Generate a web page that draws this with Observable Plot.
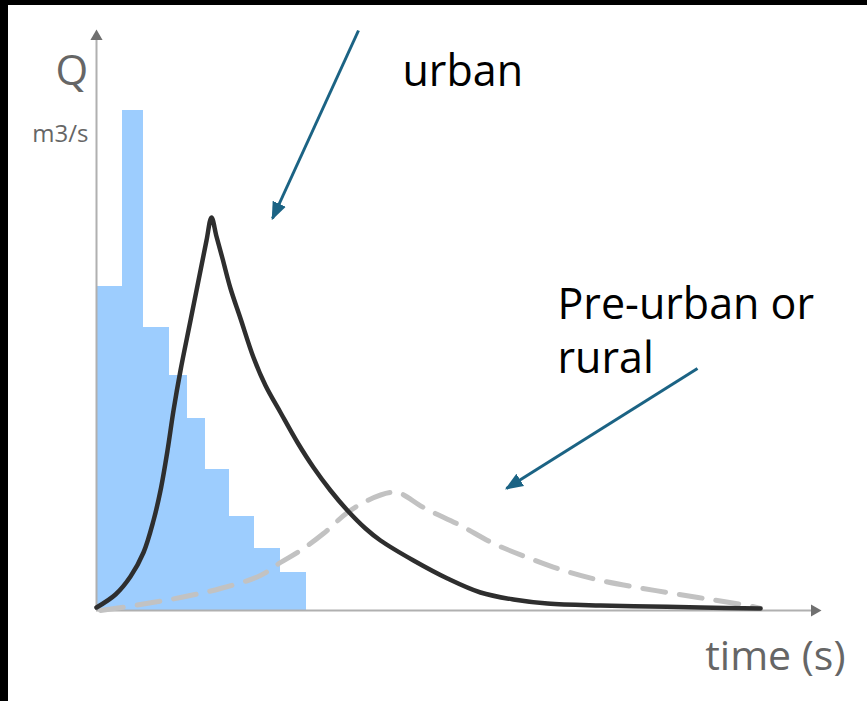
<!DOCTYPE html>
<html>
<head>
<meta charset="utf-8">
<script src="https://cdn.jsdelivr.net/npm/d3@7"></script>
<script src="https://cdn.jsdelivr.net/npm/@observablehq/plot@0.6"></script>
<style>
  html, body { margin: 0; padding: 0; background: #000; width: 867px; height: 701px; overflow: hidden; }
  #panel { position: absolute; left: 8px; top: 5px; width: 859px; height: 696px; background: #fff; }
  #panel svg { display: block; }
</style>
</head>
<body>
<div id="panel"></div>
<script>
// Rainfall hyetograph bars (time start, time end, intensity)
const barStart  = [0, 26, 47, 73, 91, 109, 133, 158, 184];
const barEnd    = [26, 47, 73, 91, 109, 133, 158, 184, 210];
const barHeight = [324, 500, 283, 235, 192, 141, 94, 62, 38];

// Urban hydrograph (solid)
const urbanT = [0, 19, 34, 47, 57, 64, 71, 77, 84, 94, 104, 110, 115, 120, 126, 134, 144, 157, 169, 184, 201, 217, 234, 251, 269, 284, 317, 351, 384, 417, 451, 504, 554, 604, 664];
const urbanQ = [3, 16, 34, 58, 90, 120, 160, 200, 240, 290, 340, 370, 393, 374, 352, 322, 292, 253, 225, 198, 168, 143, 120, 100, 82, 70, 50, 32, 18, 11, 7, 5, 4, 3, 2];

// Pre-urban / rural hydrograph (dashed)
const ruralT = [4, 44, 84, 124, 164, 184, 204, 227, 251, 271, 294, 304, 327, 364, 397, 431, 467, 504, 541, 577, 614, 651, 664];
const ruralQ = [0, 6, 13, 22, 35, 48, 60, 77, 98, 110, 118, 117, 103, 85, 67, 53, 40, 30, 23, 17, 11, 5, 2];

// Axis extents
const xMax = 724, yMax = 580;
const xAxisEnd = 716, yAxisEnd = 570;
const xHead = 718, yHead = 574;

// Annotation labels
const labelText = ["urban", "Pre-urban or", "rural"];
const labelX    = [306, 461, 461];
const labelY    = [538, 305, 251];

// Axis titles
const qText = "Q",        qX = -41,  qY = 539, qSize = 42;
const unitText = "m3/s",  unitX = -8, unitY = 476, unitSize = 24;
const timeText = "time (s)", timeX = 749, timeY = -46, timeSize = 41;

// Annotation arrows
const arrowX1 = [262, 601], arrowY1 = [580, 242];
const arrowX2 = [176, 410], arrowY2 = [392, 122];

const bars = barStart.map((s, i) => ({x1: s, x2: barEnd[i], y: barHeight[i]}));
const urban = urbanT.map((t, i) => ({t, q: urbanQ[i]}));
const rural = ruralT.map((t, i) => ({t, q: ruralQ[i]}));
const labels = labelText.map((text, i) => ({text, x: labelX[i], y: labelY[i]}));
const arrows = arrowX1.map((x1, i) => ({x1, y1: arrowY1[i], x2: arrowX2[i], y2: arrowY2[i]}));

function filledArrow(color) {
  const m = document.createElementNS("http://www.w3.org/2000/svg", "marker");
  m.setAttribute("viewBox", "-5 -5 10 10");
  m.setAttribute("refX", "4");
  m.setAttribute("refY", "0");
  m.setAttribute("markerWidth", "6");
  m.setAttribute("markerHeight", "6");
  m.setAttribute("orient", "auto");
  const p = document.createElementNS("http://www.w3.org/2000/svg", "path");
  p.setAttribute("d", "M-5,-4L5,0L-5,4Z");
  p.setAttribute("fill", color);
  p.setAttribute("stroke", "none");
  m.appendChild(p);
  return m;
}

const fontFamily = "'Open Sans', 'Noto Sans', sans-serif";

const chart = Plot.plot({
  width: 859,
  height: 696,
  marginLeft: 88,
  marginRight: 47,
  marginTop: 25,
  marginBottom: 91,
  x: {domain: [0, xMax], axis: null},
  y: {domain: [0, yMax], axis: null},
  style: {background: "#fff", overflow: "visible"},
  marks: [
    Plot.rect(bars, {x1: "x1", x2: "x2", y1: 0, y2: "y", fill: "#9dcdfe"}),
    Plot.ruleY([0], {x1: 0, x2: xAxisEnd, stroke: "#b0b0b0", strokeWidth: 2}),
    Plot.ruleX([0], {y1: 0, y2: yAxisEnd, stroke: "#b0b0b0", strokeWidth: 2}),
    Plot.dot([{x: xHead, y: 0}], {x: "x", y: "y", symbol: "triangle", r: 4.5, fill: "#707070", stroke: "none", rotate: 90}),
    Plot.dot([{x: 0, y: yHead}], {x: "x", y: "y", symbol: "triangle", r: 4.5, fill: "#707070", stroke: "none"}),
    Plot.line(rural, {x: "t", y: "q", curve: "catmull-rom", stroke: "#c2c2c2", strokeWidth: 5, strokeDasharray: "23,14"}),
    Plot.line(urban, {x: "t", y: "q", curve: "catmull-rom", stroke: "#2e2e2e", strokeWidth: 4.5}),
    Plot.link(arrows, {x1: "x1", y1: "y1", x2: "x2", y2: "y2", stroke: "#1b6384", strokeWidth: 3, markerEnd: filledArrow}),
    Plot.text(labels, {x: "x", y: "y", text: "text", textAnchor: "start", fontSize: 43, fill: "#000", fontFamily}),
    Plot.text([qText], {x: qX, y: qY, text: d => d, textAnchor: "start", fontSize: qSize, fill: "#666", fontFamily}),
    Plot.text([unitText], {x: unitX, y: unitY, text: d => d, textAnchor: "end", fontSize: unitSize, fill: "#666", fontFamily}),
    Plot.text([timeText], {x: timeX, y: timeY, text: d => d, textAnchor: "end", fontSize: timeSize, fill: "#666", fontFamily})
  ]
});
document.getElementById("panel").appendChild(chart);
</script>
</body>
</html>
